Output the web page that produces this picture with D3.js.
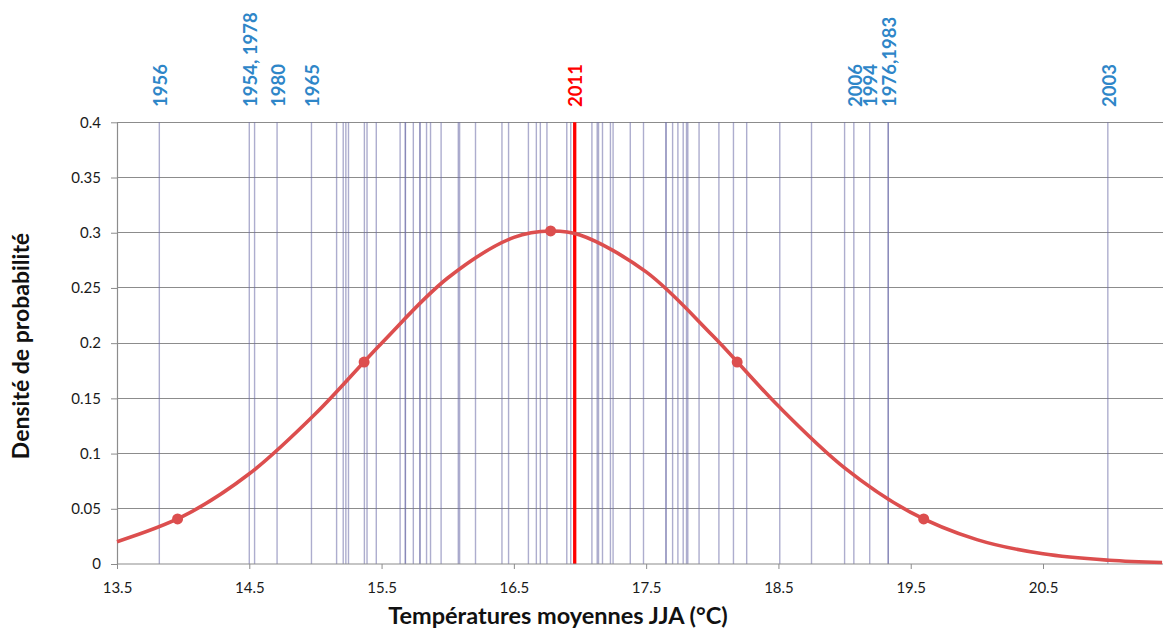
<!DOCTYPE html>
<html><head><meta charset="utf-8">
<script src="https://cdn.jsdelivr.net/npm/d3@7"></script>
<style>
html,body{margin:0;padding:0;background:#fff;}
svg{display:block;}
</style></head>
<body>
<script>
// ---- data (x read against the printed axis) ----
const yearTemps = [13.82, 14.50, 14.54, 14.71, 14.97, 15.16, 15.21, 15.23, 15.25, 15.37, 15.39, 15.46,
  15.64, 15.68, 15.68, 15.74, 15.79, 15.79, 15.84, 15.87, 15.95, 16.08, 16.09, 16.21, 16.41, 16.46,
  16.61, 16.67, 16.70, 16.75, 16.90, 16.93, 17.09, 17.13, 17.14, 17.17, 17.23, 17.25, 17.38,
  17.48, 17.65, 17.65, 17.70, 17.74, 17.78, 17.805, 17.815, 17.90, 18.05, 18.16, 18.26, 18.51, 18.75,
  19.00, 19.07, 19.19, 19.33, 19.33, 20.99];
const temp2011 = 16.96;
const labelTexts = ["1956", "1954, 1978", "1980", "1965", "2011", "2006", "1994", "1976,1983", "2003"];
const labelTemps = [13.82, 14.50, 14.71, 14.97, 16.96, 19.07, 19.19, 19.33, 20.99];
const labelIsRed = [false, false, false, false, true, false, false, false, false];
const curveX = [13.5, 14.0, 14.5, 15.0, 15.5, 16.0, 16.5, 16.78, 17.0, 17.5, 18.0, 18.5, 19.0, 19.5, 20.0, 20.5, 21.0, 21.4];
const curveY = [0.0202, 0.0433, 0.0817, 0.1361, 0.2000, 0.2590, 0.2958, 0.3016, 0.2979, 0.2645, 0.2071, 0.1430, 0.0871, 0.0468, 0.0221, 0.0092, 0.0034, 0.0014];
const markerX = [13.958, 15.368, 16.778, 18.188, 19.598];
const markerY = [0.0408, 0.1829, 0.3016, 0.1829, 0.0408];
const xTicks = [13.5, 14.5, 15.5, 16.5, 17.5, 18.5, 19.5, 20.5];
const yTicks = [0, 0.05, 0.1, 0.15, 0.2, 0.25, 0.3, 0.35, 0.4];
const xTitle = "Températures moyennes JJA (°C)";
const yTitle = "Densité de probabilité";

// ---- drawing ----
const W = 1163, H = 630;
const svg = d3.select("body").append("svg").attr("width", W).attr("height", H);
const x = d3.scaleLinear().domain([13.5, 21.407]).range([117, 1163]);
const y = d3.scaleLinear().domain([0, 0.4]).range([564, 122.3]);
const font = "Lato, 'Open Sans', sans-serif";

// horizontal gridlines
svg.append("g").selectAll("line").data(yTicks.filter(d => d > 0)).join("line")
  .attr("x1", x(13.5)).attr("x2", W).attr("y1", d => y(d)).attr("y2", d => y(d))
  .attr("stroke", "#8c8c8c").attr("stroke-width", 1).attr("shape-rendering", "crispEdges");

// year lines
svg.append("g").selectAll("line").data(yearTemps).join("line")
  .attr("x1", d => x(d)).attr("x2", d => x(d)).attr("y1", y(0.4)).attr("y2", y(0))
  .attr("stroke", "#6a6aa6").attr("stroke-opacity", 0.55).attr("stroke-width", 1.4);

// 2011 line
svg.append("line").attr("x1", x(temp2011)).attr("x2", x(temp2011)).attr("y1", y(0.4)).attr("y2", y(0))
  .attr("stroke", "#ff0000").attr("stroke-width", 3.3);

// axes
const xAxis = svg.append("g").attr("transform", `translate(0,${y(0)})`)
  .call(d3.axisBottom(x).tickValues(xTicks).tickFormat(d3.format(".1f")).tickSize(5).tickSizeOuter(0).tickPadding(13));
const yAxis = svg.append("g").attr("transform", `translate(${x(13.5)},0)`)
  .call(d3.axisLeft(y).tickValues(yTicks).tickFormat(d => d === 0 ? "0" : String(+d.toFixed(2))).tickSize(6).tickSizeOuter(0).tickPadding(10));
[xAxis, yAxis].forEach(g => {
  g.select(".domain").attr("stroke", "#8c8c8c").attr("stroke-width", 1.2);
  g.selectAll(".tick line").attr("stroke", "#8c8c8c");
  g.selectAll(".tick text").attr("font-family", font).attr("font-size", 15).attr("fill", "#1a1a1a");
});
xAxis.select(".domain").attr("d", `M${x(13.5)},0H${W}`);

// curve
svg.append("path").datum(curveX.map((d, i) => [d, curveY[i]]))
  .attr("fill", "none").attr("stroke", "#dc4e4e").attr("stroke-width", 3.6)
  .attr("d", d3.line().x(d => x(d[0])).y(d => y(d[1])).curve(d3.curveCatmullRom.alpha(0.5)));

svg.append("g").selectAll("circle").data(markerX.map((d, i) => [d, markerY[i]])).join("circle")
  .attr("cx", d => x(d[0])).attr("cy", d => y(d[1])).attr("r", 5.5).attr("fill", "#dc4e4e");

// year labels
svg.append("g").selectAll("text").data(labelTexts).join("text")
  .attr("transform", (d, i) => `translate(${x(labelTemps[i]) + 1},107) rotate(-90)`)
  .attr("dy", "0.36em").attr("text-anchor", "start")
  .attr("font-family", font).attr("font-weight", "bold").attr("font-size", 18.5)
  .attr("fill", (d, i) => labelIsRed[i] ? "#ff0000" : "#2e86c8")
  .text(d => d);

// titles
svg.append("text").attr("x", 558).attr("y", 624).attr("text-anchor", "middle")
  .attr("font-family", font).attr("font-weight", "bold").attr("font-size", 23.5).attr("fill", "#111")
  .text(xTitle);
svg.append("text").attr("transform", `translate(29,346) rotate(-90)`).attr("text-anchor", "middle")
  .attr("font-family", font).attr("font-weight", "bold").attr("font-size", 23).attr("fill", "#111")
  .text(yTitle);
</script>
</body></html>
